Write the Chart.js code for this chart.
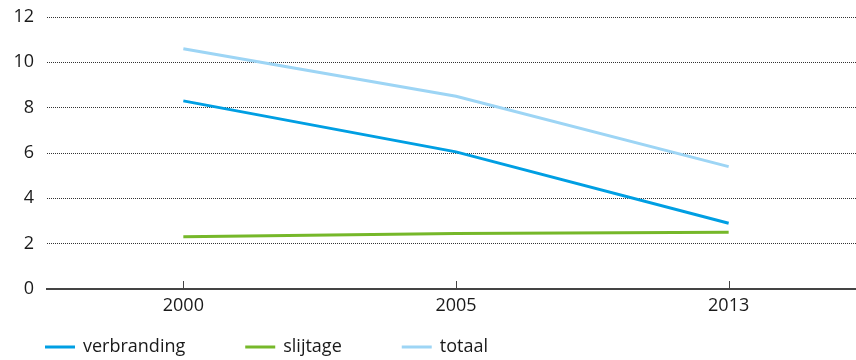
<!DOCTYPE html>
<html>
<head>
<meta charset="utf-8">
<script src="https://cdn.jsdelivr.net/npm/chart.js@4"></script>
<style>
  html, body { margin: 0; padding: 0; background: #fff; overflow: hidden; }
  #wrap { position: relative; width: 865px; height: 360px; }
</style>
</head>
<body>
<div id="wrap"><canvas id="chart"></canvas></div>
<script>
// Jaren op de horizontale as
const years = ['2000', '2005', '2013'];

// Reeksen
const verbranding = [8.3, 6.05, 2.9];
const slijtage = [2.3, 2.45, 2.5];
const totaal = [10.6, 8.5, 5.4];

// Waarden op de verticale as
const yTicks = [0, 2, 4, 6, 8, 10, 12];

const FONT = '"Open Sans", sans-serif';
const TEXT = '#1a1a1a';

// Korte streepjes boven de x-as bij elk jaartal
const axisTicks = {
  id: 'axisTicks',
  afterDatasetsDraw(chart) {
    const x = chart.scales.x, y = chart.scales.y;
    const ctx = chart.ctx;
    const base = y.getPixelForValue(0);
    ctx.save();
    ctx.strokeStyle = '#444';
    ctx.lineWidth = 1;
    years.forEach((_, i) => {
      const px = Math.round(x.getPixelForTick(i)) + 0.5;
      ctx.beginPath();
      ctx.moveTo(px, base);
      ctx.lineTo(px, base - 8);
      ctx.stroke();
    });
    ctx.restore();
  }
};

// Legenda onder de grafiek
const bottomLegend = {
  id: 'bottomLegend',
  afterDraw(chart) {
    const ctx = chart.ctx;
    const y = 347;
    let x = 45;
    ctx.save();
    ctx.font = '18px ' + FONT;
    ctx.textBaseline = 'middle';
    chart.data.datasets.forEach(ds => {
      ctx.strokeStyle = ds.borderColor;
      ctx.lineWidth = 3;
      ctx.beginPath();
      ctx.moveTo(x, y);
      ctx.lineTo(x + 30, y);
      ctx.stroke();
      ctx.fillStyle = TEXT;
      ctx.fillText(ds.label, x + 38, y);
      x += 38 + ctx.measureText(ds.label).width + 60;
    });
    ctx.restore();
  }
};

new Chart(document.getElementById('chart'), {
  type: 'line',
  data: {
    labels: years,
    datasets: [
      { label: 'verbranding', data: verbranding, borderColor: '#009fe3' },
      { label: 'slijtage', data: slijtage, borderColor: '#76b82a' },
      { label: 'totaal', data: totaal, borderColor: '#9dd5f5' }
    ]
  },
  options: {
    responsive: true,
    maintainAspectRatio: false,
    animation: false,
    layout: { padding: { top: 17, left: 0, right: 0, bottom: 40 } },
    elements: {
      line: { borderWidth: 3, tension: 0, borderCapStyle: 'butt' },
      point: { radius: 0, hoverRadius: 0 }
    },
    plugins: {
      legend: { display: false },
      tooltip: { enabled: false }
    },
    scales: {
      x: {
        type: 'category',
        offset: true,
        grid: { display: false, drawTicks: false },
        border: { display: true, color: '#444', width: 2 },
        ticks: { color: TEXT, font: { family: FONT, size: 18 }, padding: 6 },
        afterFit(scale) { scale.height = 31; scale.paddingLeft = 0; scale.paddingRight = 0; }
      },
      y: {
        min: 0,
        max: 12,
        afterBuildTicks(scale) { scale.ticks = yTicks.map(v => ({ value: v })); },
        grid: {
          drawTicks: false,
          color: ctx => ctx.tick && ctx.tick.value === 0 ? 'rgba(0,0,0,0)' : '#333',
          lineWidth: 1
        },
        border: { display: false, dash: [1, 1] },
        ticks: { color: TEXT, font: { family: FONT, size: 18 }, padding: 13 },
        afterFit(scale) { scale.width = 47; scale.paddingTop = 0; scale.paddingBottom = 0; }
      }
    }
  },
  plugins: [axisTicks, bottomLegend]
});
</script>
</body>
</html>
